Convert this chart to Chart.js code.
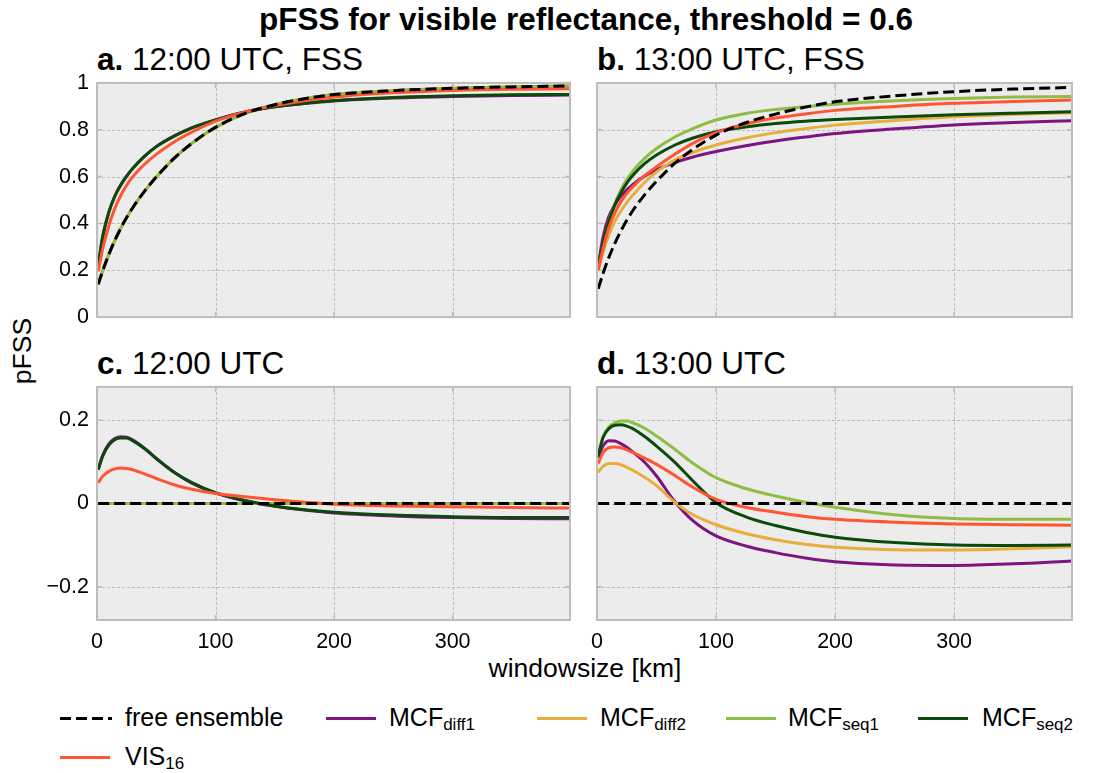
<!DOCTYPE html>
<html><head><meta charset="utf-8">
<script src="https://cdn.jsdelivr.net/npm/chart.js@4/dist/chart.umd.min.js"></script>
<style>
html,body{margin:0;padding:0;background:#fff;}
body{width:1116px;height:773px;position:relative;overflow:hidden;font-family:"Liberation Sans",Arial,sans-serif;color:#000;}
canvas{position:absolute;}
.t{position:absolute;white-space:nowrap;line-height:1;}
.leg{position:absolute;height:0;}
.leg .ln{position:absolute;top:-1.5px;width:50px;height:0;border-top:3px solid;}
.leg .tx{position:absolute;top:-13px;font-size:25px;white-space:nowrap;line-height:1;}
sub{font-size:0.68em;vertical-align:-0.22em;line-height:0;}
</style></head>
<body>
<div class="t" style="left:586px;top:20px;font-size:31.5px;font-weight:bold;transform:translate(-50%,-50%);">pFSS for visible reflectance, threshold = 0.6</div>
<div class="t" style="left:97px;top:44px;font-size:31.5px;"><b>a.</b> 12:00 UTC, FSS</div>
<div class="t" style="left:597px;top:44px;font-size:31.5px;"><b>b.</b> 13:00 UTC, FSS</div>
<div class="t" style="left:97px;top:348px;font-size:31.5px;"><b>c.</b> 12:00 UTC</div>
<div class="t" style="left:597px;top:348px;font-size:31.5px;"><b>d.</b> 13:00 UTC</div>
<div class="t" style="left:22px;top:351px;font-size:26.5px;transform:translate(-50%,-50%) rotate(-90deg);">pFSS</div>
<div class="t" style="left:585px;top:668px;font-size:26.5px;transform:translate(-50%,-50%);">windowsize [km]</div>
<canvas id="ca"></canvas><canvas id="cb"></canvas><canvas id="cc"></canvas><canvas id="cd"></canvas>
<div id="legend"></div>
<script>
// ---- data (windowsize in km) ----
const X = [1,5,10,15,20,25,30,40,50,65,80,100,125,150,175,200,250,300,350,399];
const XTICKS = [0,100,200,300];
const YTICKS_FSS = [0,0.2,0.4,0.6,0.8,1];
const YTICKS_DIFF = [-0.2,0,0.2];

// a. 12:00 UTC, FSS
const A_FREE  = [0.14,0.2,0.268,0.327,0.379,0.425,0.466,0.537,0.598,0.678,0.742,0.81,0.87,0.907,0.932,0.95,0.967,0.977,0.983,0.987];
const A_DIFF1 = [0.22,0.348,0.448,0.516,0.564,0.602,0.634,0.686,0.728,0.773,0.808,0.842,0.876,0.898,0.912,0.923,0.935,0.942,0.946,0.948];
const A_DIFF2 = [0.14,0.2,0.268,0.327,0.379,0.425,0.466,0.537,0.598,0.678,0.742,0.81,0.87,0.907,0.932,0.95,0.967,0.977,0.983,0.987];
const A_SEQ1  = [0.14,0.2,0.268,0.327,0.379,0.425,0.466,0.537,0.598,0.678,0.742,0.81,0.87,0.907,0.932,0.95,0.967,0.977,0.983,0.987];
const A_SEQ2  = [0.22,0.348,0.448,0.516,0.564,0.602,0.634,0.686,0.728,0.773,0.808,0.842,0.876,0.898,0.913,0.925,0.938,0.945,0.949,0.951];
const A_VIS   = [0.195,0.295,0.39,0.463,0.519,0.563,0.598,0.652,0.695,0.748,0.79,0.837,0.876,0.903,0.924,0.94,0.958,0.968,0.973,0.975];

// b. 13:00 UTC, FSS
const B_FREE  = [0.12,0.185,0.255,0.315,0.367,0.413,0.454,0.522,0.58,0.655,0.715,0.777,0.83,0.867,0.897,0.92,0.945,0.963,0.974,0.981];
const B_DIFF1 = [0.22,0.34,0.43,0.48,0.516,0.543,0.566,0.602,0.63,0.66,0.683,0.707,0.732,0.752,0.769,0.784,0.804,0.821,0.831,0.839];
const B_DIFF2 = [0.20,0.276,0.351,0.409,0.453,0.489,0.52,0.575,0.62,0.67,0.703,0.735,0.765,0.788,0.805,0.82,0.84,0.856,0.866,0.873];
const B_SEQ1  = [0.205,0.31,0.41,0.485,0.542,0.587,0.623,0.678,0.72,0.768,0.804,0.842,0.87,0.887,0.899,0.909,0.924,0.934,0.94,0.942];
const B_SEQ2  = [0.21,0.314,0.409,0.479,0.53,0.572,0.605,0.655,0.692,0.734,0.764,0.792,0.812,0.827,0.837,0.844,0.855,0.864,0.871,0.877];
const B_VIS   = [0.20,0.29,0.382,0.445,0.492,0.528,0.556,0.604,0.642,0.694,0.741,0.788,0.825,0.85,0.868,0.883,0.9,0.913,0.921,0.927];

// c. 12:00 UTC (difference to free ensemble)
const C_FREE  = [0,0,0,0,0,0,0,0,0,0,0,0,0,0,0,0,0,0,0,0];
const C_DIFF1 = [0.082,0.117,0.143,0.156,0.160,0.159,0.153,0.133,0.108,0.075,0.049,0.025,0.006,-0.007,-0.016,-0.023,-0.030,-0.034,-0.036,-0.037];
const C_DIFF2 = [0,0,0,0,0,0,0,0,0,0,0,0,0,0,0,0,0,0,0,0];
const C_SEQ1  = [0,0,0,0,0,0,0,0,0,0,0,0,0,0,0,0,0,0,0,0];
const C_SEQ2  = [0.081,0.115,0.140,0.153,0.157,0.157,0.151,0.132,0.108,0.075,0.050,0.026,0.007,-0.006,-0.015,-0.021,-0.028,-0.032,-0.034,-0.034];
const C_VIS   = [0.05,0.066,0.077,0.083,0.085,0.084,0.081,0.071,0.06,0.045,0.034,0.024,0.016,0.009,0.003,-0.002,-0.006,-0.008,-0.010,-0.011];

// d. 13:00 UTC (difference to free ensemble)
const D_FREE  = [0,0,0,0,0,0,0,0,0,0,0,0,0,0,0,0,0,0,0,0];
const D_DIFF1 = [0.11,0.138,0.151,0.15,0.144,0.135,0.124,0.099,0.066,0.006,-0.04,-0.078,-0.102,-0.118,-0.131,-0.14,-0.148,-0.149,-0.145,-0.138];
const D_DIFF2 = [0.075,0.089,0.096,0.096,0.093,0.087,0.08,0.063,0.043,0.004,-0.026,-0.051,-0.072,-0.087,-0.098,-0.105,-0.111,-0.112,-0.109,-0.104];
const D_SEQ1  = [0.117,0.16,0.184,0.194,0.198,0.198,0.194,0.181,0.162,0.131,0.098,0.062,0.036,0.018,0.003,-0.009,-0.027,-0.036,-0.038,-0.038];
const D_SEQ2  = [0.113,0.158,0.18,0.188,0.189,0.186,0.18,0.161,0.138,0.1,0.056,0.002,-0.032,-0.053,-0.069,-0.081,-0.094,-0.1,-0.101,-0.1];
const D_VIS   = [0.096,0.122,0.134,0.136,0.134,0.129,0.123,0.109,0.094,0.068,0.04,0.01,-0.009,-0.021,-0.031,-0.038,-0.045,-0.049,-0.051,-0.052];

// ---- styling ----
const COLORS = {free:'#000000', diff1:'#7e1480', diff2:'#e8ad3a', seq1:'#8dbd45', seq2:'#0a4a0a', vis:'#ff5533'};
const LABELS = {free:'free ensemble', diff1:'MCF<sub>diff1</sub>', diff2:'MCF<sub>diff2</sub>', seq1:'MCF<sub>seq1</sub>', seq2:'MCF<sub>seq2</sub>', vis:'VIS<sub>16</sub>'};
const FONT = '"Liberation Sans", Arial, sans-serif';

const pts = arr => X.map((x,i)=>({x:x, y:arr[i]}));

function makeDatasets(s){
  // drawing order: free on top, then VIS, seq2, seq1, diff2, diff1 (bottom)
  return [
    {key:'free', data:pts(s.free), borderDash:[11,5]},
    {key:'vis', data:pts(s.vis)},
    {key:'seq2', data:pts(s.seq2)},
    {key:'seq1', data:pts(s.seq1)},
    {key:'diff2', data:pts(s.diff2)},
    {key:'diff1', data:pts(s.diff1)}
  ].map(d=>({
    label:d.key, data:d.data, borderColor:COLORS[d.key], backgroundColor:COLORS[d.key],
    borderWidth:3, pointRadius:0, borderDash:d.borderDash||[], cubicInterpolationMode:'monotone',
    fill:false, borderCapStyle:'butt'
  }));
}

const panelFrame = {
  id:'panelFrame',
  beforeDraw(chart){
    const {ctx, chartArea:a} = chart;
    ctx.save(); ctx.fillStyle='#ececec'; ctx.fillRect(a.left,a.top,a.right-a.left,a.bottom-a.top); ctx.restore();
  },
  beforeDatasetsDraw(chart){
    const {ctx, chartArea:a, scales} = chart;
    ctx.save(); ctx.strokeStyle='#bdbdbd'; ctx.lineWidth=1; ctx.setLineDash([3,2]);
    scales.x.ticks.forEach(t=>{const p=Math.round(scales.x.getPixelForValue(t.value))+0.5; ctx.beginPath(); ctx.moveTo(p,a.top); ctx.lineTo(p,a.bottom); ctx.stroke();});
    scales.y.ticks.forEach(t=>{const p=Math.round(scales.y.getPixelForValue(t.value))+0.5; ctx.beginPath(); ctx.moveTo(a.left,p); ctx.lineTo(a.right,p); ctx.stroke();});
    ctx.setLineDash([]); ctx.lineWidth=1.5;
    scales.x.ticks.forEach(t=>{const p=scales.x.getPixelForValue(t.value); ctx.beginPath(); ctx.moveTo(p,a.bottom); ctx.lineTo(p,a.bottom-5); ctx.moveTo(p,a.top); ctx.lineTo(p,a.top+5); ctx.stroke();});
    scales.y.ticks.forEach(t=>{const p=scales.y.getPixelForValue(t.value); ctx.beginPath(); ctx.moveTo(a.left,p); ctx.lineTo(a.left+5,p); ctx.moveTo(a.right,p); ctx.lineTo(a.right-5,p); ctx.stroke();});
    ctx.restore();
  },
  afterDraw(chart){
    const {ctx, chartArea:a} = chart;
    ctx.save(); ctx.strokeStyle='#bdbdbd'; ctx.lineWidth=2;
    ctx.strokeRect(a.left,a.top,a.right-a.left,a.bottom-a.top); ctx.restore();
  }
};

function chartConfig(series, opt){
  return {
    type:'line',
    data:{datasets:makeDatasets(series)},
    plugins:[panelFrame],
    options:{
      responsive:false, maintainAspectRatio:false, animation:false, events:[], devicePixelRatio:1,
      layout:{padding:{top:20, right:10, bottom:opt.padBottom, left:0}},
      plugins:{legend:{display:false}, tooltip:{enabled:false}, title:{display:false}},
      scales:{
        x:{type:'linear', min:0, max:399,
          afterBuildTicks:s=>{s.ticks = XTICKS.map(v=>({value:v}));},
          afterFit:s=>{s.height = opt.xh;},
          grid:{display:false, drawTicks:false},
          border:{display:false},
          ticks:{display:opt.xlabels, padding:9, color:'#000', font:{family:FONT, size:21.5}, maxRotation:0,
            callback:v=>String(v)}
        },
        y:{type:'linear', min:opt.ymin, max:opt.ymax,
          afterBuildTicks:s=>{s.ticks = opt.yticks.map(v=>({value:v}));},
          afterFit:s=>{s.width = opt.yw;},
          grid:{display:false, drawTicks:false},
          border:{display:false},
          ticks:{display:opt.ylabels, padding:8, color:'#000', font:{family:FONT, size:21.5},
            callback:v=>{const r=Math.round(v*10)/10; return (r<0?'\u2212':'')+String(Math.abs(r));}}
        }
      }
    }
  };
}

function makeChart(id, series, opt){
  const el = document.getElementById(id);
  let w = (opt.R-opt.L) + opt.yw + 10, h = (opt.B-opt.T) + 40 + opt.xh, chart = null;
  for(let k=0;k<4;k++){
    el.width = w; el.height = h;
    el.style.width = w+'px'; el.style.height = h+'px';
    chart = new Chart(el, chartConfig(series, opt));
    const a = chart.chartArea;
    const dw = (opt.R-opt.L) - (a.right-a.left);
    const dh = (opt.B-opt.T) - (a.bottom-a.top);
    if(Math.abs(dw)<0.5 && Math.abs(dh)<0.5) break;
    chart.destroy();
    w = Math.round(w+dw); h = Math.round(h+dh);
  }
  const a = chart.chartArea;
  el.style.left = (opt.L - a.left)+'px';
  el.style.top = (opt.T - a.top)+'px';
  return chart;
}

const S = {
  a:{free:A_FREE, diff1:A_DIFF1, diff2:A_DIFF2, seq1:A_SEQ1, seq2:A_SEQ2, vis:A_VIS},
  b:{free:B_FREE, diff1:B_DIFF1, diff2:B_DIFF2, seq1:B_SEQ1, seq2:B_SEQ2, vis:B_VIS},
  c:{free:C_FREE, diff1:C_DIFF1, diff2:C_DIFF2, seq1:C_SEQ1, seq2:C_SEQ2, vis:C_VIS},
  d:{free:D_FREE, diff1:D_DIFF1, diff2:D_DIFF2, seq1:D_SEQ1, seq2:D_SEQ2, vis:D_VIS}
};

const TOP_ROW = {ymin:0, ymax:1, yticks:YTICKS_FSS, xlabels:false, xh:0, padBottom:12, T:83, B:317};
const BOT_ROW = {ymin:-0.28, ymax:0.28, yticks:YTICKS_DIFF, xlabels:true, xh:40, padBottom:0, T:387, B:620};

makeChart('ca', S.a, Object.assign({}, TOP_ROW, {L:97, R:570, yw:97, ylabels:true}));
makeChart('cb', S.b, Object.assign({}, TOP_ROW, {L:597, R:1072, yw:17, ylabels:false}));
makeChart('cc', S.c, Object.assign({}, BOT_ROW, {L:97, R:570, yw:97, ylabels:true}));
makeChart('cd', S.d, Object.assign({}, BOT_ROW, {L:597, R:1072, yw:17, ylabels:false}));

// ---- legend ----
const LEGEND = [
  {key:'free', x:60, y:718, tx:125},
  {key:'diff1', x:326, y:718, tx:389},
  {key:'diff2', x:537, y:718, tx:600},
  {key:'seq1', x:726, y:718, tx:788},
  {key:'seq2', x:918, y:718, tx:982},
  {key:'vis', x:60, y:757, tx:125}
];
const lg = document.getElementById('legend');
LEGEND.forEach(it=>{
  const d = document.createElement('div');
  d.className='leg'; d.style.left='0px'; d.style.top=it.y+'px';
  const ln = document.createElement('div'); ln.className='ln';
  ln.style.left=it.x+'px'; ln.style.borderTopColor=COLORS[it.key];
  if(it.key==='free'){ ln.style.borderTop='none'; ln.style.height='3px'; ln.style.top='-1.5px';
    ln.style.background='repeating-linear-gradient(90deg,#000 0 11px,transparent 11px 16px)'; ln.style.width='52px'; }
  const tx = document.createElement('div'); tx.className='tx'; tx.style.left=it.tx+'px'; tx.innerHTML=LABELS[it.key];
  d.appendChild(ln); d.appendChild(tx); lg.appendChild(d);
});
</script>
</body></html>
